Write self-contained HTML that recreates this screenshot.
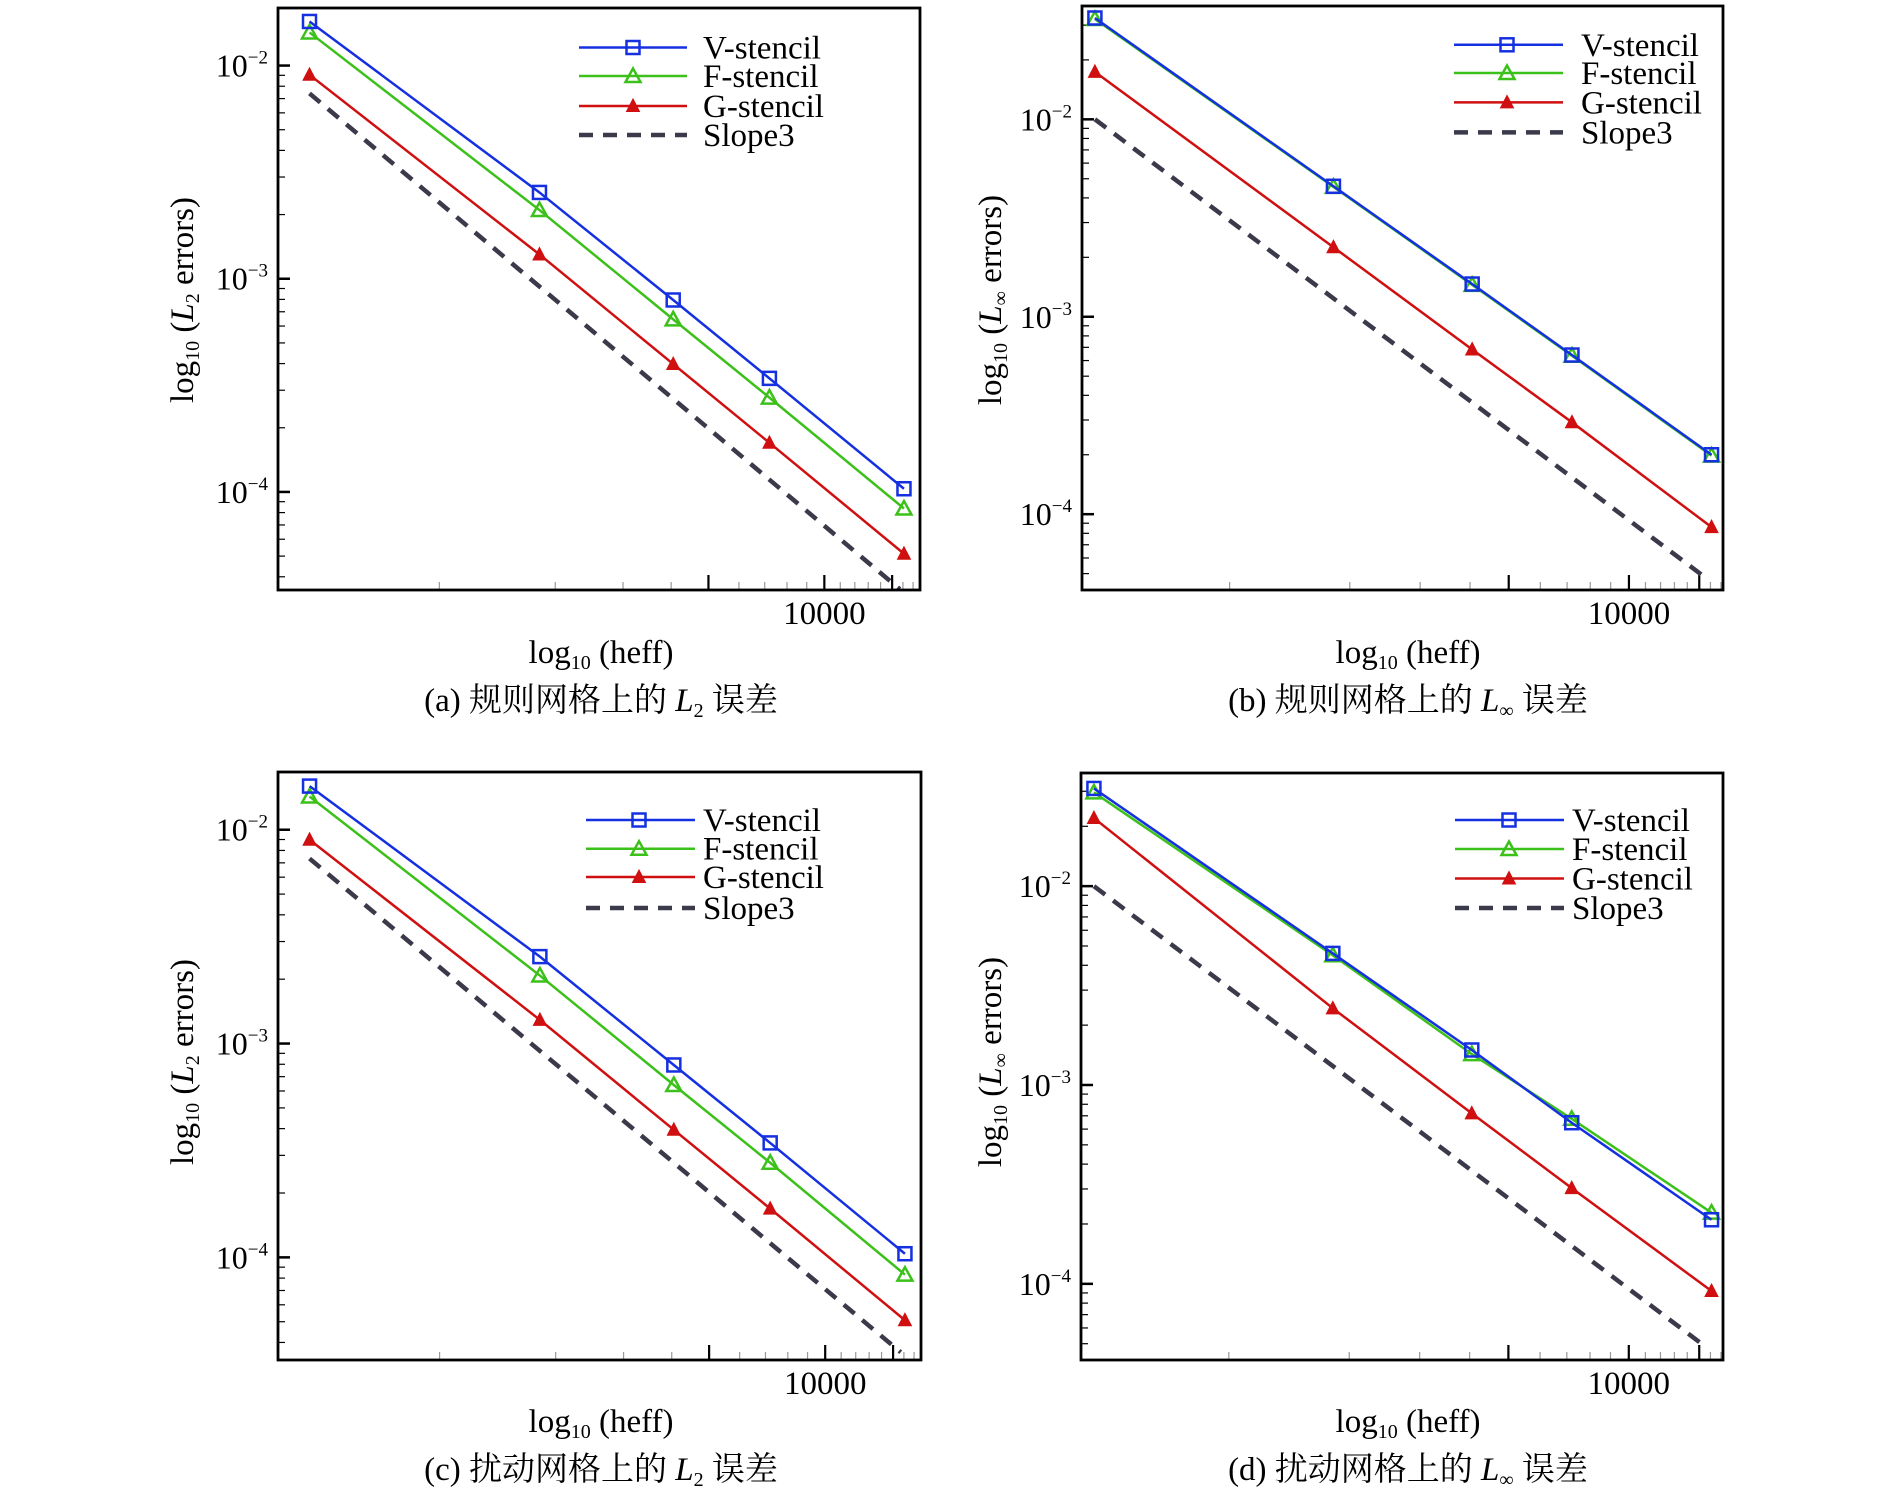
<!DOCTYPE html>
<html><head><meta charset="utf-8">
<style>
html,body{margin:0;padding:0;background:#fff;}
svg{display:block;font-family:"Liberation Serif","Noto Serif CJK SC",serif;}
</style></head>
<body>
<svg id="fig" width="1890" height="1500" viewBox="0 0 1890 1500" xmlns="http://www.w3.org/2000/svg"></svg>
<script>
// shared x data (heff)
const heff = [460, 1820, 4050, 7200, 16100];
const slopeX = [460, 15700];
const xTickLabels = ["10000"];
const yTickLabels = ["10\u22122", "10\u22123", "10\u22124"];

// panel (a) L2 regular
const aV = [1.61e-2, 2.54e-3, 7.95e-4, 3.41e-4, 1.035e-4];
const aF = [1.43e-2, 2.10e-3, 6.45e-4, 2.77e-4, 8.36e-5];
const aG = [9.05e-3, 1.30e-3, 3.98e-4, 1.70e-4, 5.13e-5];
const aS = [7.4e-3, 3.5e-5];
// panel (b) Linf regular
const bV = [3.26e-2, 4.58e-3, 1.465e-3, 6.4e-4, 2.0e-4];
const bF = [3.22e-2, 4.55e-3, 1.45e-3, 6.35e-4, 1.98e-4];
const bG = [1.74e-2, 2.25e-3, 6.83e-4, 2.92e-4, 8.6e-5];
const bS = [1.0e-2, 4.7e-5];
// panel (c) L2 perturbed
const cV = [1.6e-2, 2.55e-3, 7.94e-4, 3.43e-4, 1.04e-4];
const cF = [1.43e-2, 2.08e-3, 6.4e-4, 2.77e-4, 8.3e-5];
const cG = [8.98e-3, 1.29e-3, 3.95e-4, 1.69e-4, 5.08e-5];
const cS = [7.33e-3, 3.6e-5];
// panel (d) Linf perturbed
const dV = [3.1e-2, 4.59e-3, 1.5e-3, 6.46e-4, 2.1e-4];
const dF = [2.96e-2, 4.49e-3, 1.43e-3, 6.76e-4, 2.28e-4];
const dG = [2.2e-2, 2.43e-3, 7.2e-4, 3.03e-4, 9.2e-5];
const dS = [1.0e-2, 4.76e-5];

const NS = "http://www.w3.org/2000/svg";
const svg = document.getElementById("fig");
function mk(tag, attrs, parent) {
  const e = document.createElementNS(NS, tag);
  for (const k in attrs) e.setAttribute(k, attrs[k]);
  (parent || svg).appendChild(e);
  return e;
}
const L10 = Math.log10;

const panels = [
  {id:"a", V:aV, F:aF, G:aG, S:aS, L:278, R:920, T:8, B:590, xmin:381, xmax:17720, ymin:-4.46, ymax:-1.73,
   leg:{x1:579, x2:687, mx:633, tx:703, rows:[47.5,76,106,135]}, ytx:183, yc:300, xt:601, xty:663, cap:"(a) 规则网格上的 ", capY:711, inf:false},
  {id:"b", V:bV, F:bF, G:bG, S:bS, L:1082, R:1723, T:6, B:590, xmin:427, xmax:17200, ymin:-4.384, ymax:-1.426,
   leg:{x1:1454, x2:1563, mx:1507, tx:1581, rows:[44.8,73,102.4,132.4]}, ytx:991, yc:300, xt:1408, xty:663, cap:"(b) 规则网格上的 ", capY:711, inf:true},
  {id:"c", V:cV, F:cF, G:cG, S:cS, L:278, R:921, T:772, B:1360, xmin:381, xmax:17720, ymin:-4.48, ymax:-1.730,
   leg:{x1:586, x2:695, mx:639, tx:703, rows:[820,848.7,877,908]}, ytx:183, yc:1062, xt:601, xty:1432, cap:"(c) 扰动网格上的 ", capY:1480, inf:false},
  {id:"d", V:dV, F:dF, G:dG, S:dS, L:1081, R:1723, T:773, B:1360, xmin:427, xmax:17200, ymin:-4.383, ymax:-1.431,
   leg:{x1:1455, x2:1564, mx:1509, tx:1572, rows:[820,849,878.5,908]}, ytx:991, yc:1062, xt:1408, xty:1432, cap:"(d) 扰动网格上的 ", capY:1480, inf:true}
];

const COL = {V:"#1530e0", F:"#3cc01a", G:"#d01010", S:"#3a3a4a"};

function marker(kind, x, y, g) {
  let m;
  if (kind === "V") m = mk("rect", {x:x-6.5, y:y-6.5, width:13, height:13, fill:"none", stroke:COL.V, "stroke-width":2.5}, g);
  else if (kind === "F") m = mk("polygon", {points:`${x},${y-7.5} ${x+7.5},${y+6} ${x-7.5},${y+6}`, fill:"none", stroke:COL.F, "stroke-width":2.5}, g);
  else m = mk("polygon", {points:`${x},${y-7} ${x+6.5},${y+5.5} ${x-6.5},${y+5.5}`, fill:COL.G, stroke:COL.G, "stroke-width":1}, g);
  return m;
}

panels.forEach(p => {
  const g = mk("g", {});
  
  
  const sx = v => p.L + (L10(v) - L10(p.xmin)) / (L10(p.xmax) - L10(p.xmin)) * (p.R - p.L);
  const sy = v => p.B - (L10(v) - p.ymin) / (p.ymax - p.ymin) * (p.B - p.T);
  const clipId = "clip" + p.id;
  const defs = mk("defs", {}, g);
  const cp = mk("clipPath", {id: clipId}, defs);
  mk("rect", {x:p.L, y:p.T, width:p.R-p.L, height:p.B-p.T}, cp);

  // y ticks
  const yt = mk("g", {}, g);
  
  
  for (let e = -5; e <= -1; e++) {
    for (let k = 1; k <= 9; k++) {
      const v = k * Math.pow(10, e);
      const lv = L10(v);
      if (lv < p.ymin || lv > p.ymax) continue;
      const y = sy(v);
      mk("line", {x1:p.L, x2:p.L + (k === 1 ? 12 : 7), y1:y, y2:y, stroke:"#000", "stroke-width": k===1?2.5:1.2}, yt);
      if (k === 1) {
        const idx = -2 - e;
        const lab = yTickLabels[idx];
        if (lab) {
          const t = mk("text", {x:p.L - 10, y:y + 11, "text-anchor":"end", "font-size":32, fill:"#000"}, yt);
          
          
          const parts = lab.split("10");
          const t1 = mk("tspan", {}, t); t1.textContent = "10";
          const t2 = mk("tspan", {"font-size":19, dy:-13}, t); t2.textContent = parts[1];
        }
      }
    }
  }
  // x ticks
  const xt = mk("g", {}, g);
  
  
  for (let v = 1000; v <= 20000; v += 1000) {
    if (v < p.xmin || v > p.xmax) continue;
    const x = sx(v);
    const major = v % 5000 === 0;
    mk("line", {x1:x, x2:x, y1:p.B, y2:p.B - (major ? 15 : 8), stroke: major ? "#000" : "#999", "stroke-width": major?2.2:1.2}, xt);
  }
  const xl = mk("text", {x:sx(10000), y:p.B + 34, "text-anchor":"middle", "font-size":33}, xt);
  
  
  xl.textContent = xTickLabels[0];

  // series
  const plot = mk("g", {"clip-path":`url(#${clipId})`}, g);
  
  
  const sl = mk("polyline", {points: slopeX.map((x,i)=>sx(x)+","+sy(p.S[i])).join(" "), fill:"none", stroke:COL.S, "stroke-width":4.5, "stroke-dasharray":"14 10"}, plot);
  
  
  ["G","F","V"].forEach(k => {
    const ser = mk("g", {}, plot);
    
    
    mk("polyline", {points: heff.map((x,i)=>sx(x)+","+sy(p[k][i])).join(" "), fill:"none", stroke:COL[k], "stroke-width":2.5}, ser);
    heff.forEach((x,i) => {
      const m = marker(k, sx(x), sy(p[k][i]), ser);
      
      
    });
  });

  // frame
  const fr = mk("rect", {x:p.L, y:p.T, width:p.R-p.L, height:p.B-p.T, fill:"none", stroke:"#000", "stroke-width":2.8}, g);
  
  

  // legend
  const lg = mk("g", {}, g);
  
  
  const names = ["V-stencil","F-stencil","G-stencil","Slope3"];
  ["V","F","G","S"].forEach((k,i) => {
    const y = p.leg.rows[i];
    const e = mk("g", {}, lg);
    
    
    if (k === "S") mk("line", {x1:p.leg.x1, x2:p.leg.x2, y1:y, y2:y, stroke:COL.S, "stroke-width":4.5, "stroke-dasharray":"14 10"}, e);
    else { mk("line", {x1:p.leg.x1, x2:p.leg.x2, y1:y, y2:y, stroke:COL[k], "stroke-width":2.5}, e); marker(k, p.leg.mx, y, e); }
    const t = mk("text", {x:p.leg.tx, y:y + 11, "font-size":33}, e);
    t.textContent = names[i];
  });

  // y title
  const ytl = mk("text", {x:0, y:0, "text-anchor":"middle", "font-size":33, transform:`translate(${p.ytx + 10},${p.yc}) rotate(-90)`}, g);
  
  
  ytl.innerHTML = `log<tspan font-size="20" dy="6">10</tspan><tspan dy="-6"> (</tspan><tspan font-style="italic">L</tspan><tspan font-size="20" dy="6">${p.inf ? "\u221e" : "2"}</tspan><tspan dy="-6"> errors)</tspan>`;

  // x title
  const xtl = mk("text", {x:p.xt, y:p.xty, "text-anchor":"middle", "font-size":33}, g);
  
  
  xtl.innerHTML = `log<tspan font-size="20" dy="6">10</tspan><tspan dy="-6"> (heff)</tspan>`;

  // caption
  const cap = mk("text", {x:p.xt, y:p.capY, "text-anchor":"middle", "font-size":33}, g);
  
  
  cap.innerHTML = `${p.cap}<tspan font-style="italic">L</tspan><tspan font-size="20" dy="6">${p.inf ? "\u221e" : "2"}</tspan><tspan dy="-6"> 误差</tspan>`;
});
</script>
</body></html>
